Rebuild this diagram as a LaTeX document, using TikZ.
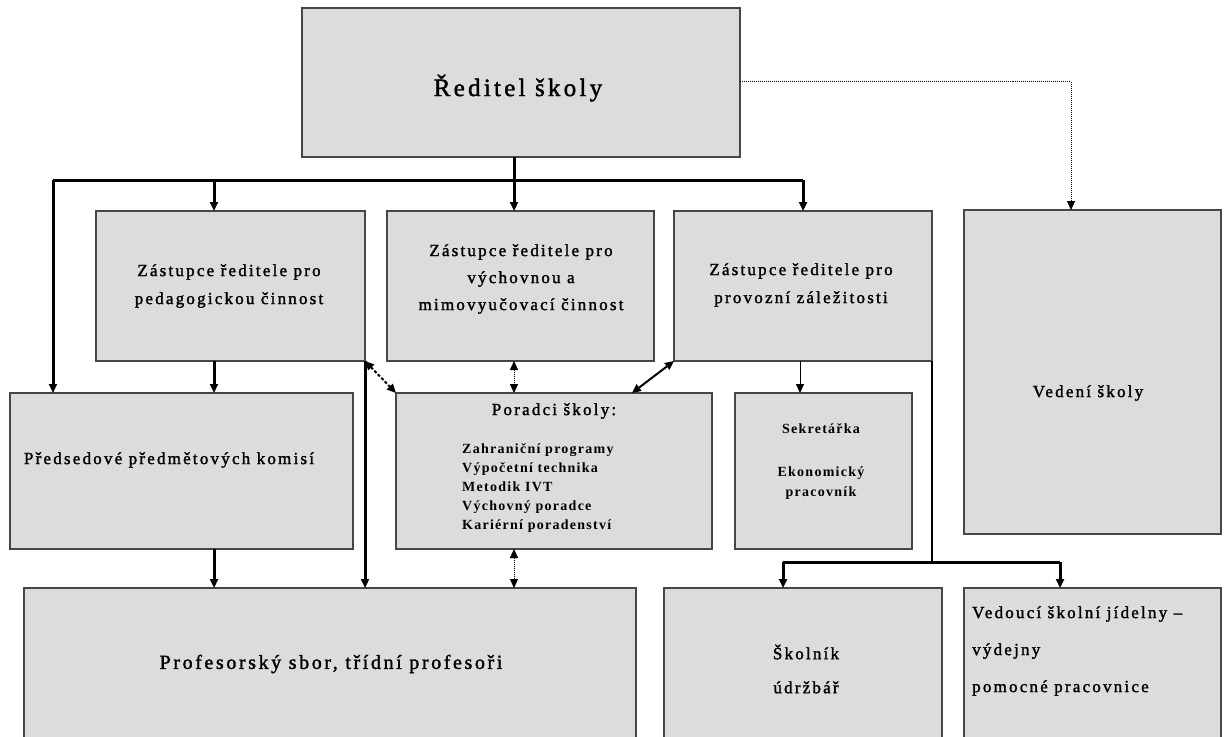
\documentclass[tikz,border=0pt]{standalone}
\usepackage{fontspec}
\setmainfont{Liberation Serif}[LetterSpace=13, FakeBold=1.6]
\newfontfamily\listfont{Liberation Serif Bold}[LetterSpace=9]
\usetikzlibrary{arrows.meta,fit}
\definecolor{boxfill}{RGB}{220,220,220}
\definecolor{boxline}{RGB}{70,70,70}
\tikzset{
  orgbox/.style={draw=boxline, line width=1.2bp, fill=boxfill, inner sep=0pt, outer sep=0pt},
  lbl/.style={inner sep=0pt, align=center, font=\fontsize{17bp}{28bp}\selectfont},
  tip/.style={-{Triangle[width=8bp,length=9bp]}},
  dtip/.style={{Triangle[width=8bp,length=9bp]}-{Triangle[width=8bp,length=9bp]}},
  heavy/.style={line width=3bp},
  medium/.style={line width=2bp},
  thinline/.style={line width=1bp},
}
\begin{document}
\begin{tikzpicture}[x=1bp,y=-1bp]
\useasboundingbox (0,0) rectangle (1226,737);
\clip (0,0) rectangle (1226,737);
\fill[white] (0,0) rectangle (1226,737);

% boxes
\node[orgbox, fit={(302,8) (740,157)}] (dir) {};
\node[orgbox, fit={(96,211) (365,361)}] (ped) {};
\node[orgbox, fit={(387,211) (654,361)}] (vych) {};
\node[orgbox, fit={(674,211) (932,361)}] (prov) {};
\node[orgbox, fit={(964,210) (1221,534)}] (ved) {};
\node[orgbox, fit={(10,393) (353,549)}] (pred) {};
\node[orgbox, fit={(396,393) (712,549)}] (por) {};
\node[orgbox, fit={(735,393) (912,549)}] (sek) {};
\node[orgbox, fit={(24,588) (636,760)}] (prof) {};
\node[orgbox, fit={(664,588) (942,760)}] (skol) {};
\node[orgbox, fit={(964,588) (1221,760)}] (jid) {};

% labels
\node[lbl, font=\fontsize{25bp}{30bp}\selectfont] (tdir) at (518,88) {Ředitel školy};
\node[lbl] (tped) at (229,286) {Zástupce ředitele pro\\pedagogickou činnost};
\node[lbl, font=\fontsize{17bp}{27bp}\selectfont] (tvych) at (521,279) {Zástupce ředitele pro\\výchovnou a\\mimovyučovací činnost};
\node[lbl] (tprov) at (801,285) {Zástupce ředitele pro\\provozní záležitosti};
\node[lbl] (tved) at (1088,393) {Vedení školy};
\node[lbl] (tpred) at (169,460) {Předsedové předmětových komisí};
\node[lbl] (tpor) at (554,411) {Poradci školy:};
\node[lbl, align=left, anchor=north west, font=\listfont\fontsize{14bp}{19bp}\selectfont] (tporl) at (462,443)
  {Zahraniční programy\\Výpočetní technika\\Metodik IVT\\Výchovný poradce\\Kariérní poradenství};
\node[lbl, font=\listfont\fontsize{14bp}{20bp}\selectfont] (tsek) at (821,462) {Sekretářka\\[23bp]Ekonomický\\pracovník};
\node[lbl, font=\fontsize{20bp}{24bp}\selectfont] (tprof) at (331,664) {Profesorský sbor, třídní profesoři};
\node[lbl, font=\fontsize{17bp}{34bp}\selectfont] (tskol) at (806,669) {Školník\\údržbář};
\node[lbl, align=left, anchor=west, font=\fontsize{17bp}{37bp}\selectfont] (tjid) at (972,651)
  {Vedoucí školní jídelny –\\výdejny\\pomocné pracovnice};

% bus from the director
\coordinate (busL) at (53,180);
\coordinate (busR) at (803,180);
\draw[heavy] (dir.south -| 514,0) -- (514,180);
\draw[heavy] (busL) -- (busR);
\draw[heavy, tip] (busL) -- (pred.north -| busL);
\draw[heavy, tip] (214,180) -- (ped.north -| 214,0);
\draw[heavy, tip] (514,180) -- (vych.north -| 514,0);
\draw[heavy, tip] (busR) -- (prov.north -| busR);

% dotted link to the school management
\draw[thinline, densely dotted, tip] (dir.east |- 0,82) -- (1071,82) -- (ved.north -| 1071,0);

% middle level
\draw[heavy, tip] (ped.south -| 214,0) -- (pred.north -| 214,0);
\draw[heavy, tip] (ped.south east) -- (prof.north -| ped.south east);
\draw[medium, densely dashed, dtip] (ped.south east) -- (por.north west);
\draw[thinline, densely dotted, dtip] (vych.south -| 514,0) -- (por.north -| 514,0);
\draw[medium, dtip] (prov.south west) -- (por.north -| 632,0);
\draw[thinline, tip] (prov.south -| 800,0) -- (sek.north -| 800,0);

% operations branch
\coordinate (opsL) at (783,562);
\coordinate (opsR) at (1060,562);
\draw[medium] (prov.south east) -- (prov.south east |- opsL);
\draw[heavy] (opsL) -- (opsR);
\draw[heavy, tip] (opsL) -- (skol.north -| opsL);
\draw[heavy, tip] (opsR) -- (jid.north -| opsR);

% lower level
\draw[heavy, tip] (pred.south -| 214,0) -- (prof.north -| 214,0);
\draw[thinline, densely dotted, dtip] (por.south -| 514,0) -- (prof.north -| 514,0);
\end{tikzpicture}
\end{document}
